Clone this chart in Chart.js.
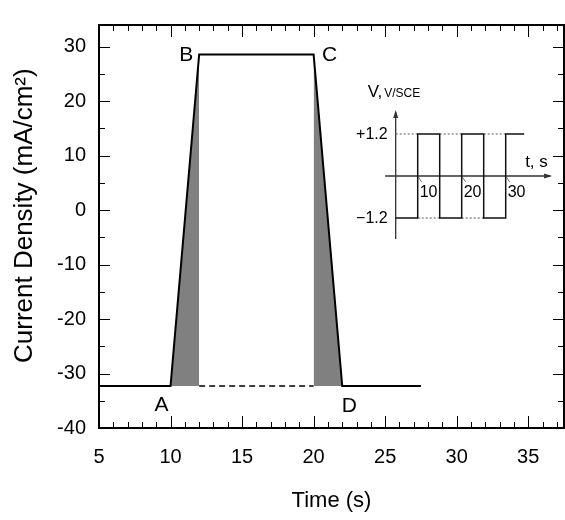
<!DOCTYPE html>
<html>
<head>
<meta charset="utf-8">
<script src="https://cdn.jsdelivr.net/npm/chart.js@4/dist/chart.umd.min.js"></script>
<style>
  body { margin: 0; background: #fff; }
  #wrap { position: relative; width: 565px; height: 520px; }
  #main { position: absolute; left: 0; top: 0; }
  #inset { position: absolute; left: 340px; top: 80px; }
</style>
</head>
<body>
<div id="wrap">
  <canvas id="main" width="565" height="520"></canvas>
  <canvas id="inset" width="215" height="170"></canvas>
</div>
<script>
// current response to the potential step
const timeS = [5, 10, 12, 20, 22, 27.5];
const currentDensity = [-32.3, -32.3, 28.6, 28.6, -32.3, -32.3];
const pointNames = ["A", "B", "C", "D"]; // points 1..4
const xTicks = [5, 10, 15, 20, 25, 30, 35];
const yTicks = [-40, -30, -20, -10, 0, 10, 20, 30];

// inset: applied potential (square wave)
const insetT = [5, 10, 15, 20, 25, 30, 34.2];
const insetV = [-1.2, 1.2, -1.2, 1.2, -1.2, 1.2, 1.2];
const insetTTicks = [10, 20, 30];
const insetVLevels = [1.2, -1.2];
const insetVLabels = ["+1.2", "\u22121.2"];

const FONT = "'Liberation Sans', Arial, sans-serif";

const pt = (i) => ({ x: timeS[i], y: currentDensity[i] });
const base = currentDensity[0];

// main chart: frame, inward ticks, point names
const frameTicks = {
  id: "frameTicks",
  afterDraw(chart) {
    const { ctx, chartArea: a, scales } = chart;
    const x = scales.x, y = scales.y;
    ctx.save();
    ctx.strokeStyle = "#000";
    ctx.lineWidth = 1;
    for (let v = x.min; v <= x.max + 1e-6; v += 1) {
      const px = Math.round(x.getPixelForValue(v)) + 0.5;
      const len = xTicks.includes(v) ? 12 : 6;
      ctx.beginPath();
      ctx.moveTo(px, a.bottom); ctx.lineTo(px, a.bottom - len);
      ctx.moveTo(px, a.top); ctx.lineTo(px, a.top + len);
      ctx.stroke();
    }
    for (let v = y.min; v <= y.max + 1e-6; v += 5) {
      const py = Math.round(y.getPixelForValue(v)) + 0.5;
      const len = yTicks.includes(v) ? 11 : 6;
      ctx.beginPath();
      ctx.moveTo(a.left, py); ctx.lineTo(a.left + len, py);
      ctx.moveTo(a.right, py); ctx.lineTo(a.right - len, py);
      ctx.stroke();
    }
    ctx.lineWidth = 2;
    ctx.strokeRect(a.left, a.top, a.right - a.left, a.bottom - a.top);

    // point names
    const offs = [[-9, 19], [-13, 1], [16, 1], [7, 20]];
    ctx.font = "21px " + FONT;
    ctx.fillStyle = "#000";
    ctx.textAlign = "center";
    ctx.textBaseline = "middle";
    pointNames.forEach((name, k) => {
      const p = pt(k + 1);
      ctx.fillText(name, x.getPixelForValue(p.x) + offs[k][0], y.getPixelForValue(p.y) + offs[k][1]);
    });
    ctx.restore();
  },
};

new Chart(document.getElementById("main"), {
  type: "line",
  data: {
    datasets: [
      {
        data: timeS.map((t, i) => pt(i)),
        borderColor: "#000",
        borderWidth: 2,
        pointRadius: 0,
        fill: false,
      },
      {
        data: [{ x: timeS[2], y: base }, { x: timeS[3], y: base }],
        borderColor: "#000",
        borderWidth: 1.5,
        borderDash: [6, 4],
        pointRadius: 0,
        fill: false,
      },
      {
        data: [pt(1), pt(2)],
        borderWidth: 0,
        pointRadius: 0,
        backgroundColor: "#808080",
        fill: { value: base },
      },
      {
        data: [pt(3), pt(4)],
        borderWidth: 0,
        pointRadius: 0,
        backgroundColor: "#808080",
        fill: { value: base },
      },
    ],
  },
  options: {
    responsive: false,
    animation: false,
    devicePixelRatio: 1,
    layout: { padding: { top: 12, right: 1, left: 0, bottom: 0 } },
    plugins: { legend: { display: false }, tooltip: { enabled: false } },
    scales: {
      x: {
        type: "linear",
        min: 5,
        max: 37.5,
        afterBuildTicks: (s) => { s.ticks = xTicks.map((v) => ({ value: v })); },
        afterFit: (s) => { s.height = 92; },
        grid: { display: false, drawTicks: false },
        border: { display: false },
        ticks: { color: "#000", padding: 17, maxRotation: 0, font: { family: FONT, size: 20 } },
        title: { display: true, text: "Time (s)", color: "#000", padding: { top: 0, bottom: 6 }, font: { family: FONT, size: 22 } },
      },
      y: {
        type: "linear",
        min: -40,
        max: 34,
        afterBuildTicks: (s) => { s.ticks = yTicks.map((v) => ({ value: v })); },
        afterFit: (s) => { s.width = 99; },
        grid: { display: false, drawTicks: false },
        border: { display: false },
        ticks: { color: "#000", padding: 13, font: { family: FONT, size: 20 } },
        title: { display: true, text: "   Current Density (mA/cm\u00b2)", color: "#000", padding: { top: 9, bottom: 0 }, font: { family: FONT, size: 26 } },
      },
    },
  },
  plugins: [frameTicks],
});

// inset guides: dotted line at the opposite level over each half period
const guideData = [];
for (let i = 0; i < insetT.length - 2; i++) {
  guideData.push({ x: insetT[i], y: -insetV[i] }, { x: insetT[i + 1], y: -insetV[i] }, { x: insetT[i + 1], y: null });
}

const insetAxes = {
  id: "insetAxes",
  beforeDatasetsDraw(chart) {
    const { ctx, scales } = chart;
    const x = scales.x, y = scales.y;
    const x0 = x.getPixelForValue(insetT[0]);
    const y0 = y.getPixelForValue(0);
    const xEnd = x.getPixelForValue(40.1);
    const yTop = y.getPixelForValue(1.83);
    ctx.save();
    ctx.strokeStyle = "#333";
    ctx.fillStyle = "#333";
    ctx.lineWidth = 1.3;
    ctx.beginPath();
    ctx.moveTo(x.getPixelForValue(2.6), y0); ctx.lineTo(xEnd, y0);
    ctx.moveTo(x0, y.getPixelForValue(-1.8)); ctx.lineTo(x0, yTop);
    ctx.stroke();
    ctx.beginPath();
    ctx.moveTo(xEnd + 2, y0); ctx.lineTo(xEnd - 6, y0 - 2.5); ctx.lineTo(xEnd - 6, y0 + 2.5); ctx.closePath();
    ctx.fill();
    ctx.beginPath();
    ctx.moveTo(x0, yTop - 2); ctx.lineTo(x0 - 2.5, yTop + 6); ctx.lineTo(x0 + 2.5, yTop + 6); ctx.closePath();
    ctx.fill();
    // small slashes at tick values
    ctx.lineWidth = 1;
    ctx.strokeStyle = "#777";
    insetTTicks.forEach((t) => {
      const px = x.getPixelForValue(t);
      ctx.beginPath();
      ctx.moveTo(px, y0); ctx.lineTo(px + 4, y0 + 6);
      ctx.stroke();
    });
    ctx.restore();
  },
  afterDraw(chart) {
    const { ctx, scales } = chart;
    const x = scales.x, y = scales.y;
    const x0 = x.getPixelForValue(insetT[0]);
    const y0 = y.getPixelForValue(0);
    ctx.save();
    ctx.fillStyle = "#000";
    ctx.font = "16px " + FONT;
    ctx.textBaseline = "middle";
    ctx.textAlign = "right";
    insetVLevels.forEach((v, k) => {
      ctx.fillText(insetVLabels[k], x0 - 8, y.getPixelForValue(v) + 0.5);
    });
    ctx.textAlign = "left";
    ctx.font = "16px " + FONT;
    insetTTicks.forEach((t) => {
      ctx.fillText(String(t), x.getPixelForValue(t) + 2, y0 + 17);
    });
    ctx.font = "17px " + FONT;
    ctx.fillText("t, s", x.getPixelForValue(40.1) - 25, y0 - 14);
    ctx.textBaseline = "alphabetic";
    ctx.font = "17px " + FONT;
    const vx = x0 - 28, vy = y.getPixelForValue(1.83) - 15;
    ctx.fillText("V,", vx, vy);
    const w = ctx.measureText("V,").width;
    ctx.font = "12px " + FONT;
    ctx.fillText("V/SCE", vx + w + 2, vy);
    ctx.restore();
  },
};

new Chart(document.getElementById("inset"), {
  type: "line",
  data: {
    datasets: [
      {
        data: insetT.map((t, i) => ({ x: t, y: insetV[i] })),
        stepped: true,
        borderColor: "#111",
        borderWidth: 1.5,
        pointRadius: 0,
        fill: false,
      },
      {
        data: guideData,
        spanGaps: false,
        borderColor: "#555",
        borderWidth: 1,
        borderDash: [2, 2],
        pointRadius: 0,
        fill: false,
      },
    ],
  },
  options: {
    responsive: false,
    animation: false,
    devicePixelRatio: 1,
    layout: { padding: { left: 33.7, right: 3.1, top: 31.25, bottom: 9.25 } },
    plugins: { legend: { display: false }, tooltip: { enabled: false } },
    scales: {
      x: { type: "linear", display: false, min: 0, max: 40.5 },
      y: { type: "linear", display: false, min: -1.85, max: 1.85 },
    },
  },
  plugins: [insetAxes],
});
</script>
</body>
</html>
